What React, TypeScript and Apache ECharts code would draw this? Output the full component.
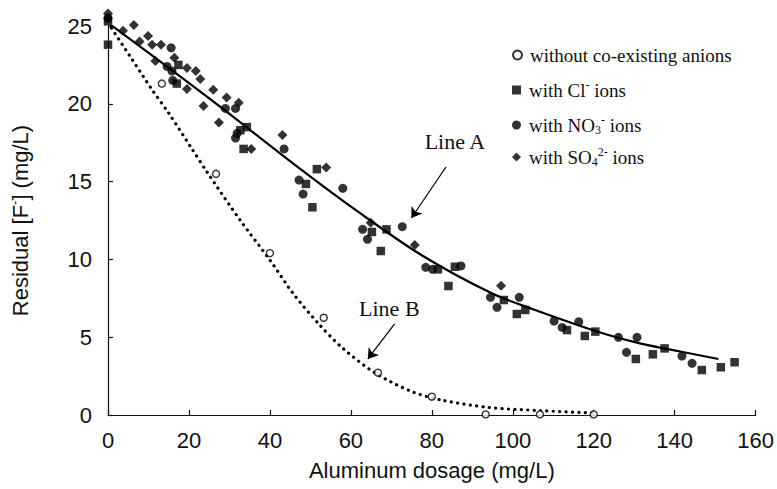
import React, { useEffect, useRef } from "react";
import * as echarts from "echarts";

// ---- data ----
const xTicks = [0, 20, 40, 60, 80, 100, 120, 140, 160];
const yTicks = [0, 5, 10, 15, 20, 25];

const withoutAnions: [number, number][] = [
  [0, 25.5], [13.3, 21.3], [26.7, 15.5], [40, 10.4], [53.3, 6.25],
  [66.7, 2.72], [80, 1.18], [93.3, 0.04], [106.7, 0.04], [120, 0.04],
];

const withCl: [number, number][] = [
  [0, 25.3], [0, 23.8], [17.4, 22.5], [17, 21.3], [34.3, 18.5], [32.7, 18.3],
  [33.5, 17.1], [51.6, 15.8], [48.9, 14.85], [50.5, 13.35], [65.2, 11.76],
  [68.8, 11.93], [67.4, 10.54], [81.5, 9.36], [85.7, 9.53], [84.1, 8.29],
  [97.8, 7.39], [101, 6.49], [103.1, 6.75], [113.4, 5.46], [117.8, 5.08],
  [120.4, 5.36], [130.4, 3.6], [134.6, 3.9], [137.5, 4.28], [146.7, 2.89],
  [151.4, 3.07], [154.8, 3.39],
];

const withNO3: [number, number][] = [
  [0, 25.5], [15.6, 23.6], [14.6, 22.4], [15.8, 22.1], [16, 21.5], [29, 19.7],
  [31.5, 19.7], [31.9, 18.1], [31.5, 17.8], [43.5, 17.1], [47.2, 15.1],
  [48.2, 14.2], [58, 14.57], [62.9, 11.93], [64.1, 11.29], [72.7, 12.1],
  [78.5, 9.49], [80.2, 9.36], [87.2, 9.58], [94.5, 7.56], [96.1, 6.92],
  [101.6, 7.56], [110.2, 6.04], [112.2, 5.63], [116.3, 6.0], [126.1, 4.99],
  [128.1, 4.03], [130.7, 4.99], [141.8, 3.79], [144.3, 3.32],
];

const withSO4: [number, number][] = [
  [0, 25.8], [3.7, 24.7], [6.4, 25.06], [7.8, 24.0], [9.9, 24.36], [10.9, 23.8],
  [13.1, 23.8], [16.4, 22.96], [11.7, 22.75], [19.5, 22.3], [21.7, 22.1],
  [22.8, 21.6], [19.5, 20.95], [26, 20.9], [29.3, 20.4], [32.3, 20.07],
  [23.6, 19.86], [27.4, 18.8], [35.4, 17.1], [43.1, 18.0], [53.9, 15.9],
  [64.9, 12.36], [75.8, 10.93], [97.1, 8.31],
];

const lineA: [number, number][] = [
  [0, 25.2], [2.1, 24.8], [18.8, 21.57], [25, 20.35], [30, 19.35],
  [47.8, 15.75], [62.1, 13.0], [77.6, 10.25], [94.8, 7.82], [105, 6.8],
  [121.6, 5.3], [131.4, 4.6], [138, 4.25], [150.8, 3.6],
];

const lineB: [number, number][] = [
  [0, 25.2], [5.4, 23.07], [10.9, 20.9], [15, 19.4], [20.5, 17.2], [24.5, 15.6],
  [32.7, 12.5], [40, 9.96], [45.7, 7.82], [51.9, 5.9], [58, 4.29], [66.1, 2.68],
  [75.1, 1.5], [82.4, 0.96], [93.9, 0.49], [106.9, 0.28], [118.3, 0.15], [120, 0.14],
];

const annotationA = { label: "Line A", at: [85.7, 17.6], arrowFrom: [83.5, 15.94], arrowTo: [74.95, 12.66] };
const annotationB = { label: "Line B", at: [69.5, 6.85], arrowFrom: [70.8, 5.85], arrowTo: [64.2, 3.6] };

const seriesNames = [
  "without co-existing anions",
  "with Cl- ions",
  "with NO3- ions",
  "with SO42- ions",
];
const legendRich: Record<string, string> = {
  "without co-existing anions": "without co-existing anions",
  "with Cl- ions": "with Cl{sup|-} ions",
  "with NO3- ions": "with NO{sub|3}{sup|-} ions",
  "with SO42- ions": "with SO{sub|4}{sup|2-} ions",
};
const legendTops = [44, 79, 114, 146];

const SERIF = "'Liberation Serif', 'Times New Roman', serif";
const SANS = "'Liberation Sans', Arial, sans-serif";
const INK = "#111";
const MARK = "#000";

export default function App() {
  const ref = useRef<HTMLDivElement>(null);

  useEffect(() => {
    if (!ref.current) return;
    const chart = echarts.init(ref.current, undefined, { renderer: "svg" });

    const richStyles = {
      sup: { fontSize: 12, fontFamily: SERIF, color: INK, verticalAlign: "top", lineHeight: 12 },
      sub: { fontSize: 12, fontFamily: SERIF, color: INK, verticalAlign: "bottom", lineHeight: 12 },
    };

    const legends = seriesNames.map((name, i) => ({
      data: [name],
      left: 512,
      top: legendTops[i],
      orient: "vertical",
      padding: 0,
      itemWidth: 9,
      itemHeight: 9,
      selectedMode: false,
      formatter: (n: string) => legendRich[n] ?? n,
      textStyle: {
        fontFamily: SERIF,
        fontSize: 19,
        color: INK,
        lineHeight: 22,
        padding: [0, 0, 0, 3],
        rich: richStyles,
      },
    }));

    const markerBase = { clip: false, z: 5, emphasis: { disabled: true } };

    const option: any = {
      animation: false,
      backgroundColor: "#fff",
      grid: { left: 103, right: 21, top: 26, bottom: 74, containLabel: false },
      legend: legends,
      xAxis: {
        type: "value",
        min: xTicks[0],
        max: xTicks[xTicks.length - 1],
        interval: xTicks[1] - xTicks[0],
        name: "Aluminum dosage (mg/L)",
        nameLocation: "middle",
        nameGap: 44,
        nameTextStyle: { fontFamily: SANS, fontSize: 22, color: INK },
        axisLine: { show: true, lineStyle: { color: INK, width: 1.2 } },
        axisTick: { show: true, inside: true, length: 5, lineStyle: { color: INK, width: 1.2 } },
        axisLabel: { fontFamily: SANS, fontSize: 22, color: INK, margin: 14 },
        splitLine: { show: false },
      },
      yAxis: {
        type: "value",
        min: yTicks[0],
        max: yTicks[yTicks.length - 1],
        interval: yTicks[1] - yTicks[0],
        name: "Residual [F{sup|-}] (mg/L)",
        nameLocation: "middle",
        nameGap: 76,
        nameRotate: 90,
        nameTextStyle: {
          fontFamily: SANS,
          fontSize: 22,
          color: INK,
          lineHeight: 24,
          rich: {
            sup: { fontFamily: SANS, fontSize: 13, color: INK, verticalAlign: "top", lineHeight: 13 },
          },
        },
        axisLine: { show: true, lineStyle: { color: INK, width: 1.2 } },
        axisTick: { show: true, inside: true, length: 5, lineStyle: { color: INK, width: 1.2 } },
        axisLabel: { fontFamily: SANS, fontSize: 22, color: INK, margin: 16 },
        splitLine: { show: false },
      },
      series: [
        {
          name: "Line A",
          type: "line",
          data: lineA,
          smooth: 0.3,
          showSymbol: false,
          symbol: "none",
          silent: true,
          z: 3,
          lineStyle: { color: MARK, width: 2.2 },
          markPoint: {
            symbol: "circle",
            symbolSize: 0,
            silent: true,
            label: { show: true, position: "inside", formatter: annotationA.label, fontFamily: SERIF, fontSize: 22, color: INK },
            data: [{ coord: annotationA.at }],
          },
          markLine: {
            silent: true,
            symbol: ["none", "arrow"],
            symbolSize: 10,
            label: { show: false },
            lineStyle: { color: MARK, width: 1.2, type: "solid" },
            data: [[{ coord: annotationA.arrowFrom }, { coord: annotationA.arrowTo }]],
          },
        },
        {
          name: "Line B",
          type: "line",
          data: lineB,
          smooth: 0.3,
          showSymbol: false,
          symbol: "none",
          silent: true,
          z: 3,
          lineStyle: { color: MARK, width: 3.2, type: [0.1, 6.3], cap: "round" },
          markPoint: {
            symbol: "circle",
            symbolSize: 0,
            silent: true,
            label: { show: true, position: "inside", formatter: annotationB.label, fontFamily: SERIF, fontSize: 22, color: INK },
            data: [{ coord: annotationB.at }],
          },
          markLine: {
            silent: true,
            symbol: ["none", "arrow"],
            symbolSize: 10,
            label: { show: false },
            lineStyle: { color: MARK, width: 1.2, type: "solid" },
            data: [[{ coord: annotationB.arrowFrom }, { coord: annotationB.arrowTo }]],
          },
        },
        {
          ...markerBase,
          name: seriesNames[0],
          type: "scatter",
          data: withoutAnions,
          symbol: "circle",
          symbolSize: 7,
          itemStyle: { color: "#fff", borderColor: MARK, borderWidth: 1.4 },
        },
        {
          ...markerBase,
          name: seriesNames[1],
          type: "scatter",
          data: withCl,
          symbol: "rect",
          symbolSize: 8.5,
          itemStyle: { color: MARK },
        },
        {
          ...markerBase,
          name: seriesNames[2],
          type: "scatter",
          data: withNO3,
          symbol: "circle",
          symbolSize: 9,
          itemStyle: { color: MARK },
        },
        {
          ...markerBase,
          name: seriesNames[3],
          type: "scatter",
          data: withSO4,
          symbol: "diamond",
          symbolSize: 10,
          itemStyle: { color: MARK },
        },
      ],
    };

    chart.setOption(option);
    return () => chart.dispose();
  }, []);

  return (
    <div
      ref={ref}
      style={{ position: "fixed", left: 0, top: 0, width: 777, height: 489, background: "#fff" }}
    />
  );
}
